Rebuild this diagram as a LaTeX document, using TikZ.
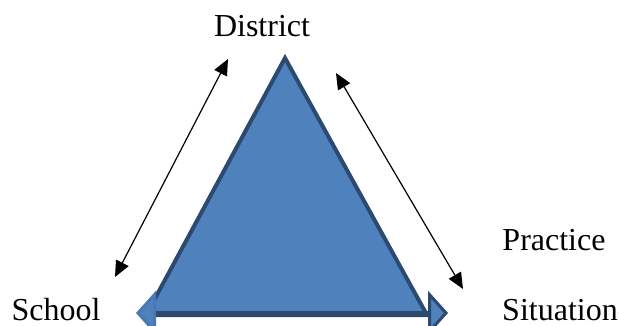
\documentclass[tikz,border=0pt]{standalone}
\usepackage{fontspec}
\setmainfont{Liberation Serif}
\usetikzlibrary{arrows.meta, positioning}
\definecolor{triblue}{HTML}{4F81BD}
\definecolor{triedge}{HTML}{2C4A70}
\definecolor{headlight}{HTML}{4A78B4}

\begin{document}
\begin{tikzpicture}[x=1pt, y=-1pt,
      label/.style={font=\fontsize{32}{38}\selectfont, inner sep=0pt, anchor=base},
      link/.style={{Triangle[length=16pt, width=14pt]}-{Triangle[length=16pt, width=14pt]}, line width=1.2pt, black},
      flow/.style={line width=4pt, triedge,
        {Triangle[length=20pt, width=44pt, color=headlight, fill=triblue, line width=3pt]}-{Triangle[length=20pt, width=44pt, color=triedge, fill=triblue, line width=3pt]}}]
    \useasboundingbox (0,0) rectangle (619,326);
    % corners of the triangle
    \coordinate (top) at (285,58);
    \coordinate (bl) at (146,315);
    \coordinate (br) at (427,315);
    \filldraw[fill=triblue, draw=triedge, line width=4pt] (top) -- (br) -- (bl) -- cycle;
    % labels
    \node[label] (district) at (262,37) {District};
    \node[label] (school) at (56,320) {School};
    \node[label] (practice) at (554,251) {Practice};
    \node[label] (situation) at (560,320) {Situation};
    % ends of the thin arrows
    \coordinate (l1) at (115,277);
    \coordinate (l2) at (228,59);
    \coordinate (r1) at (336,73);
    \coordinate (r2) at (463,289);
    \draw[link] (l1) -- (l2);
    \draw[link] (r1) -- (r2);
    % bottom double arrow
    \coordinate (al) at (136,313);
    \coordinate (ar) at (448,313);
    \draw[flow] (al) -- (ar);
\end{tikzpicture}
\end{document}
